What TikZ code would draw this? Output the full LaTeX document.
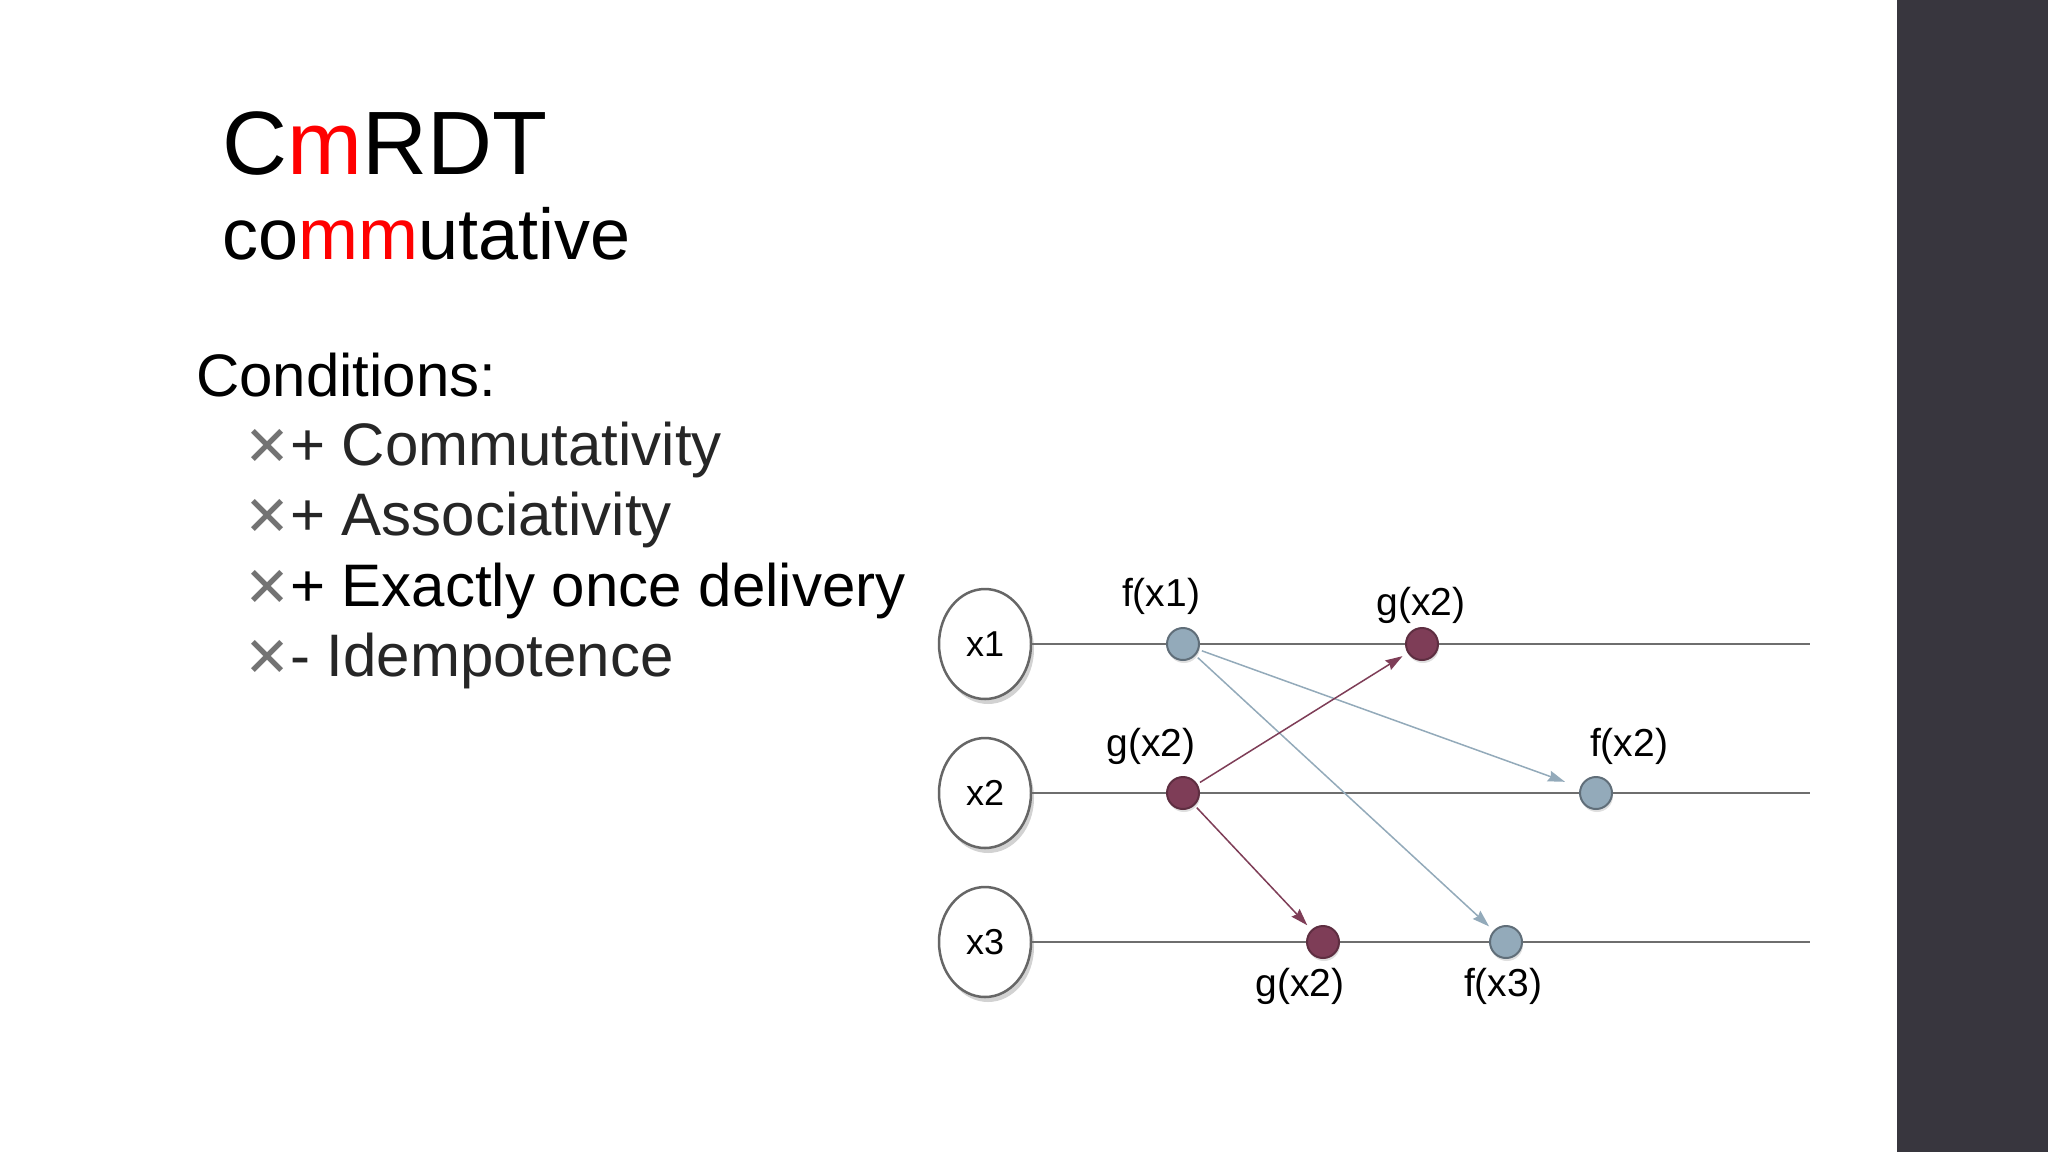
\documentclass[tikz,border=0pt]{standalone}
\usepackage{fontspec}
\setmainfont{Liberation Sans}
\newfontfamily\symfont{DejaVu Sans}
\usetikzlibrary{shapes, arrows.meta, positioning, calc, shadows}

\definecolor{opblue}{HTML}{93AABA}
\definecolor{opred}{HTML}{7E3D57}
\definecolor{panelgray}{HTML}{38363E}
\definecolor{wiregray}{HTML}{6E6E6E}

\newcommand{\fsz}[1]{\fontsize{#1}{#1}\selectfont}
\newcommand{\xmark}{\makebox[42pt][l]{\hspace*{-4pt}\color{black!55}\symfont\fsz{55}✕}}

\begin{document}
\begin{tikzpicture}[x=1pt, y=-1pt,
        headtext/.style={anchor=base west, inner sep=0, font=\fsz{90}},
        subtext/.style={anchor=base west, inner sep=0, font=\fsz{72}},
        itemtext/.style={anchor=base west, inner sep=0, font=\fsz{60}, text=black!85},
        replica/.style={ellipse, draw=black!60, line width=2.5pt, fill=white, minimum width=92, minimum height=110, inner sep=0, font=\fsz{36},
            drop shadow={shadow xshift=3pt, shadow yshift=-5pt, opacity=0.35}},
        opdot/.style={circle, minimum size=32, inner sep=0, line width=2pt,
            drop shadow={shadow xshift=1pt, shadow yshift=-3pt, opacity=0.25}},
        fdot/.style={opdot, fill=opblue, draw=opblue!65!black},
        gdot/.style={opdot, fill=opred, draw=opred!75!black},
        timeline/.style={draw=wiregray, line width=2pt},
        msg/.style={-{Stealth[length=17, width=11, inset=2]}, line width=1.5pt, shorten <=3, shorten >=6},
        lbl/.style={inner sep=0, font=\fsz{39}}
    ]
        \useasboundingbox (0,0) rectangle (2048,1152);
        \fill[white] (0,0) rectangle (1897,1152);
        \fill[panelgray] (1897,0) rectangle (2048,1152);

        % Text
        \node[headtext] (head) at (222,174) {C\textcolor{red}{m}RDT};
        \node[subtext] (sub) at (222,259) {co\textcolor{red}{mm}utative};
        \node[itemtext, text=black] (cond) at (196,396) {Conditions:};
        \node[itemtext] (item1) at (248,465) {\xmark+ Commutativity};
        \node[itemtext] (item2) at (248,535) {\xmark+ Associativity};
        \node[itemtext, text=black] (item3) at (248,606) {\xmark+ Exactly once delivery};
        \node[itemtext] (item4) at (248,676) {\xmark- Idempotence};

        % Replicas
        \node[replica] (x1) at (985,644) {x1};
        \node[replica] (x2) at (985,793) {x2};
        \node[replica] (x3) at (985,942) {x3};
        \coordinate (end1) at (1810,644);
        \coordinate (end2) at (1810,793);
        \coordinate (end3) at (1810,942);
        \draw[timeline] (x1.east) -- (end1);
        \draw[timeline] (x2.east) -- (end2);
        \draw[timeline] (x3.east) -- (end3);

        % Operations
        \node[fdot] (fx1) at (1183,644) {};
        \node[gdot] (gx2a) at (1422,644) {};
        \node[gdot] (gx2) at (1183,793) {};
        \node[fdot] (fx2) at (1596,793) {};
        \node[gdot] (gx2b) at (1323,942) {};
        \node[fdot] (fx3) at (1506,942) {};

        \node[lbl] (lfx1) at (1161,596) {f(x1)};
        \node[lbl] (lgx2a) at (1421,605) {g(x2)};
        \node[lbl] (lgx2) at (1151,746) {g(x2)};
        \node[lbl] (lfx2) at (1629,746) {f(x2)};
        \node[lbl] (lgx2b) at (1300,986) {g(x2)};
        \node[lbl] (lfx3) at (1503,986) {f(x3)};

        % Messages
        \draw[msg, opblue] (fx1) -- (fx2) [shorten >=16];
        \draw[msg, opblue] (fx1) -- (fx3);
        \draw[msg, opred] (gx2) -- (gx2a);
        \draw[msg, opred] (gx2) -- (gx2b);

    \end{tikzpicture}
\end{document}
